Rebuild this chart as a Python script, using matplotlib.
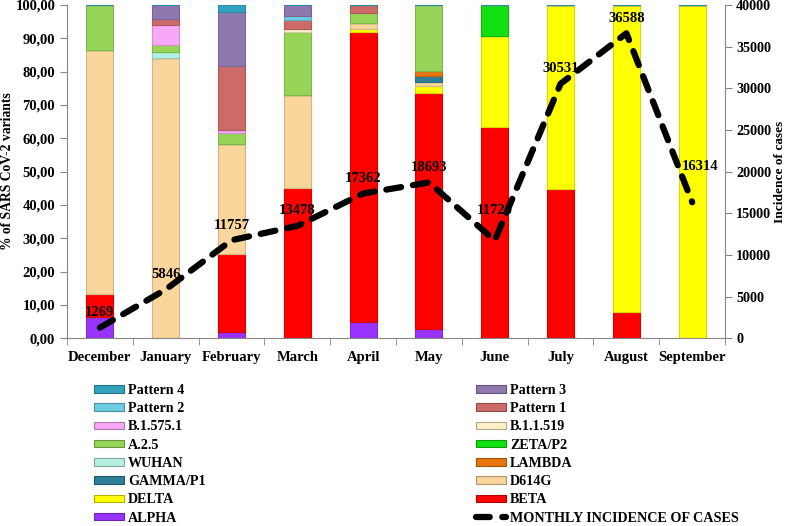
import numpy as np
import matplotlib
matplotlib.use("Agg")
import matplotlib.pyplot as plt
import matplotlib.colors as mcolors
from matplotlib.patches import Patch
from matplotlib.lines import Line2D
from matplotlib.ticker import FuncFormatter

plt.rcParams['font.family'] = ['Liberation Serif', 'DejaVu Serif']
plt.rcParams['font.weight'] = 'bold'

months = ['December', 'January', 'February', 'March', 'April', 'May',
          'June', 'July', 'August', 'September']
cases = [1269, 5846, 11757, 13478, 17362, 18693, 11720, 30531, 36588, 16314]

# % of each variant per month (stacked bottom -> top)
alpha    = [6.5, 0,    1.8,  0,    5.0,  2.7,  0,    0,    0,    0]
beta     = [6.8, 0,    23.5, 45.2, 86.8, 71.0, 63.5, 44.8, 8.0,  0]
delta    = [0,   0,    0,    0,    1.0,  2.0,  27.3, 55.2, 92.0, 100]
d614g    = [73.2, 84.0, 33.0, 27.8, 1.9, 1.1,  0,    0,    0,    0]
gamma_p1 = [0,   0,    0,    0,    0,    1.9,  0,    0,    0,    0]
lambda_v = [0,   0,    0,    0,    0,    1.5,  0,    0,    0,    0]
wuhan    = [0,   2.0,  0,    0,    0,    0,    0,    0,    0,    0]
zeta_p2  = [0,   0,    0,    0,    0,    0,    9.2,  0,    0,    0]
a25      = [13.5, 2.0, 3.2,  18.8, 3.0,  19.8, 0,    0,    0,    0]
b11519   = [0,   0,    0,    1.0,  0,    0,    0,    0,    0,    0]
b15751   = [0,   6.0,  1.0,  0,    0,    0,    0,    0,    0,    0]
pattern1 = [0,   1.8,  19.3, 2.7,  2.3,  0,    0,    0,    0,    0]
pattern2 = [0,   0,    0,    1.3,  0,    0,    0,    0,    0,    0]
pattern3 = [0,   4.2,  16.0, 3.2,  0,    0,    0,    0,    0,    0]
pattern4 = [0,   0,    2.2,  0,    0,    0,    0,    0,    0,    0]

series = [
    ('ALPHA', alpha, '#9933FF'),
    ('BETA', beta, '#FF0000'),
    ('DELTA', delta, '#FFFF00'),
    ('D614G', d614g, '#FAD59C'),
    ('GAMMA/P1', gamma_p1, '#2E7F98'),
    ('LAMBDA', lambda_v, '#E8740F'),
    ('WUHAN', wuhan, '#B4F0E2'),
    ('ZETA/P2', zeta_p2, '#11E011'),
    ('A.2.5', a25, '#97D558'),
    ('B.1.1.519', b11519, '#FFF0C8'),
    ('B.1.575.1', b15751, '#F7A8F7'),
    ('Pattern 1', pattern1, '#CC6B68'),
    ('Pattern 2', pattern2, '#6DCDE3'),
    ('Pattern 3', pattern3, '#8E78AE'),
    ('Pattern 4', pattern4, '#33A3BD'),
]


def darker(c, f=0.25):
    r, g, b = mcolors.to_rgb(c)
    return (r * (1 - f), g * (1 - f), b * (1 - f))


fig = plt.figure(figsize=(7.91, 5.26), dpi=100)
ax = fig.add_axes([0.0847, 0.357, 0.832, 0.6338])
x = np.arange(len(months))

bottom = np.zeros(len(months))
handles = {}
for name, vals, col in series:
    vals = np.array(vals, dtype=float)
    ax.bar(x, vals, 0.41, bottom=bottom, color=col, edgecolor=darker(col, 0.15),
           linewidth=0.8, zorder=2)
    bottom += vals
    handles[name] = Patch(facecolor=col, edgecolor=darker(col, 0.3), linewidth=0.8)

ax.set_xlim(-0.5, len(months) - 0.5)
ax.set_ylim(0, 100)
ax.set_yticks(np.arange(0, 101, 10))
ax.yaxis.set_major_formatter(FuncFormatter(lambda v, p: f"{v:.2f}".replace('.', ',')))
ax.set_xticks(x)
ax.set_xticklabels(months)
ax.set_xticks(np.arange(-0.5, len(months), 1), minor=True)
ax.tick_params(axis='x', which='major', length=0, pad=9, labelsize=10.5)
ax.tick_params(axis='x', which='minor', length=5, direction='out', color='#868686')
ax.tick_params(axis='y', length=5, direction='out', color='#868686', labelsize=10.5)
for s in ['top', 'right']:
    ax.spines[s].set_visible(False)
for s in ['left', 'bottom']:
    ax.spines[s].set_color('#868686')
ax.set_ylabel('% of SARS CoV-2 variants', fontsize=9.8, fontweight='bold')
ax.yaxis.set_label_coords(-0.08, 0.5)

ax2 = ax.twinx()
ax2.set_ylim(0, 40000)
ax2.set_yticks(np.arange(0, 40001, 5000))
ax2.tick_params(axis='y', length=5, direction='out', color='#868686', labelsize=10.2, pad=3)
for s in ['top', 'left', 'bottom']:
    ax2.spines[s].set_visible(False)
ax2.spines['right'].set_color('#868686')
ax2.set_ylabel('Incidence of cases', fontsize=9.6, fontweight='bold', rotation=90,
               va='center', ha='center')
ax2.yaxis.set_label_coords(1.083, 0.5)

line, = ax2.plot(x, cases, color='black', linewidth=4.5, linestyle=(0, (2.4, 1.9)),
                 dash_capstyle='round', zorder=5)

label_offsets = {6: (0, 30), 9: (8, 36)}
for i, v in enumerate(cases):
    dx, dy = label_offsets.get(i, (0, 15))
    ax2.annotate(str(v), (x[i], v), xytext=(dx, dy), textcoords='offset pixels',
                 ha='center', va='center', fontsize=10.5, fontweight='bold')

line_handle = Line2D([0], [0], color='black', linewidth=4.5, linestyle=(0, (2.2, 2.0)),
                     dash_capstyle='round')

col1 = ['Pattern 4', 'Pattern 2', 'B.1.575.1', 'A.2.5', 'WUHAN', 'GAMMA/P1', 'DELTA', 'ALPHA']
col2 = ['Pattern 3', 'Pattern 1', 'B.1.1.519', 'ZETA/P2', 'LAMBDA', 'D614G', 'BETA']

leg_kw = dict(frameon=False, loc='upper left', handlelength=2.1,
              handleheight=0.45, handletextpad=0.3, labelspacing=0.37,
              borderpad=0, borderaxespad=0, prop={'weight': 'bold', 'size': 10.2})
fig.legend([handles[n] for n in col1], col1, bbox_to_anchor=(94 / 791, 1 - 384 / 526), **leg_kw)
fig.legend([handles[n] for n in col2] + [line_handle], col2 + ['MONTHLY INCIDENCE OF CASES'],
           bbox_to_anchor=(476 / 791, 1 - 384 / 526), **leg_kw)

fig.savefig('out.png', dpi=100)
